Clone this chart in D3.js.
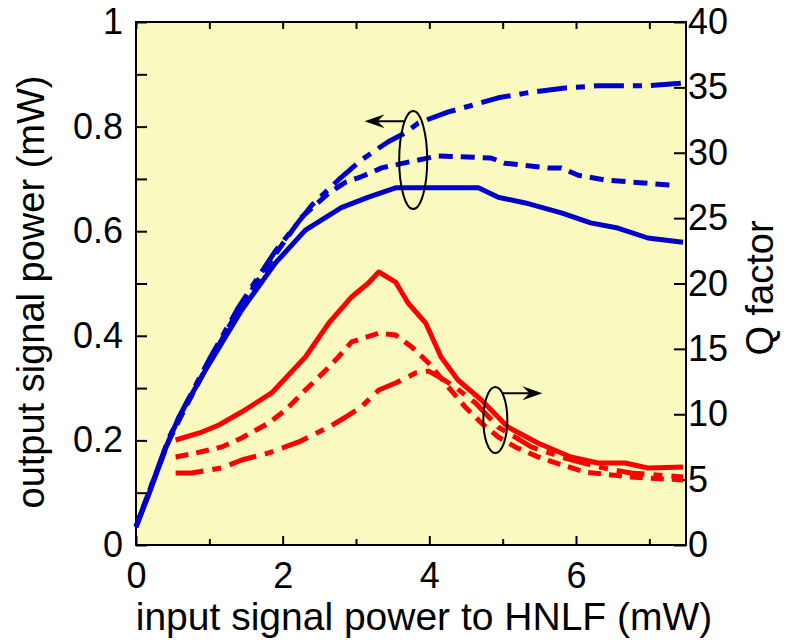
<!DOCTYPE html>
<head>
	<title>Output power and Q factor vs input power</title>
	<meta charset="utf-8"/>
	<script src="https://d3js.org/d3.v7.min.js"></script>
	<style>
		body { margin: 0; background: #fff; }
		text { font-family: "Liberation Sans", Arial, Helvetica, sans-serif; fill: #000; }
	</style>
</head>
<body>
<div id="my_dataviz"></div>
<script>
    // input signal power to HNLF (mW)
    var xTicks = [0, 2, 4, 6];
    var yLeftTicks = [0, 0.2, 0.4, 0.6, 0.8, 1];
    var yRightTicks = [0, 5, 10, 15, 20, 25, 30, 35, 40];

    // output signal power (mW) -- blue, left axis
    var blueSolidX = [0, 0.18, 0.41, 0.585, 0.95, 1.44, 1.9, 2.31, 2.8, 3.17, 3.54, 3.99, 4.67, 4.94, 5.31, 5.8, 6.2, 6.57, 6.98, 7.46];
    var blueSolidY = [0.034, 0.099, 0.187, 0.245, 0.335, 0.449, 0.539, 0.602, 0.645, 0.665, 0.683, 0.683, 0.683, 0.665, 0.654, 0.635, 0.616, 0.606, 0.587, 0.579];
    var blueDashX = [0, 0.2, 0.45, 0.7, 1.0, 1.4, 1.9, 2.26, 2.63, 2.86, 3.07, 3.35, 3.71, 4.12, 4.84, 5.03, 5.62, 5.8, 6.03, 6.39, 7.29];
    var blueDashY = [0.035, 0.11, 0.2, 0.27, 0.35, 0.45, 0.556, 0.627, 0.673, 0.694, 0.704, 0.721, 0.732, 0.744, 0.74, 0.73, 0.721, 0.721, 0.707, 0.698, 0.688];
    var blueDotDashX = [0, 0.2, 0.45, 0.7, 1.0, 1.4, 1.9, 2.4, 2.76, 3.07, 3.44, 3.67, 3.85, 4.26, 4.94, 5.31, 5.85, 6.3, 6.98, 7.46];
    var blueDotDashY = [0.035, 0.11, 0.205, 0.275, 0.355, 0.455, 0.562, 0.65, 0.698, 0.736, 0.771, 0.788, 0.807, 0.828, 0.855, 0.864, 0.874, 0.878, 0.878, 0.883];

    // Q factor -- red, right axis
    var redSolidX = [0.54, 0.9, 1.13, 1.44, 1.85, 2.31, 2.63, 2.94, 3.17, 3.31, 3.54, 3.71, 3.95, 4.16, 4.39, 4.71, 5.07, 5.48, 5.93, 6.3, 6.67, 6.98, 7.46];
    var redSolidY = [8.03, 8.64, 9.18, 10.17, 11.63, 14.38, 16.98, 18.97, 20.04, 20.88, 20.11, 18.51, 16.98, 14.38, 12.62, 11.09, 9.02, 7.8, 6.73, 6.27, 6.27, 5.89, 5.97];
    var redDashX = [0.54, 0.82, 1.17, 1.44, 1.81, 2.04, 2.31, 2.59, 2.76, 2.94, 3.31, 3.54, 3.76, 3.99, 4.26, 4.49, 4.71, 4.94, 5.17, 5.52, 6.12, 6.75, 7.46];
    var redDashY = [6.73, 7.04, 7.5, 8.18, 9.33, 10.33, 11.85, 13.38, 14.38, 15.53, 16.21, 16.06, 15.14, 13.92, 12.08, 10.55, 9.33, 8.26, 7.5, 6.65, 5.58, 5.2, 4.97];
    var redDotDashX = [0.54, 0.76, 1.17, 1.44, 1.81, 2.22, 2.63, 2.86, 3.07, 3.31, 3.54, 3.81, 3.99, 4.16, 4.35, 4.63, 4.94, 5.39, 5.85, 6.3, 6.75, 7.46];
    var redDotDashY = [5.51, 5.51, 5.89, 6.5, 7.04, 7.88, 9.02, 9.79, 10.55, 11.85, 12.39, 13.15, 13.3, 12.77, 12.08, 10.86, 9.02, 7.5, 6.65, 5.97, 5.51, 5.2];

    var W = 789, H = 643;
    var margin = {top: 22, right: 103, bottom: 98, left: 136};
    var width = W - margin.left - margin.right,
        height = H - margin.top - margin.bottom;

    var svg = d3.select("#my_dataviz")
        .append("svg")
        .attr("width", W)
        .attr("height", H)
        .append("g")
        .attr("transform", "translate(" + margin.left + "," + margin.top + ")");

    var x = d3.scaleLinear().domain([0, 7.5]).range([0, width]);
    var yL = d3.scaleLinear().domain([0, 1]).range([height, 0]);
    var yR = d3.scaleLinear().domain([0, 40]).range([height, 0]);

    // plot background
    svg.append("rect")
        .attr("width", width)
        .attr("height", height)
        .attr("fill", "#fafac0");

    // inward ticks on all four sides
    function ticks(axis, values, len, labelled) {
        return axis.tickValues(values).tickSizeInner(-len).tickSizeOuter(0)
            .tickFormat(labelled ? null : "");
    }
    var tickSize = 36;

    svg.append("g")
        .attr("transform", "translate(0," + height + ")")
        .call(ticks(d3.axisBottom(x), [1, 3, 5, 7], 6, false));
    svg.append("g")
        .attr("transform", "translate(0," + height + ")")
        .call(ticks(d3.axisBottom(x), xTicks, 9, true).tickPadding(17));
    svg.append("g")
        .call(ticks(d3.axisTop(x), d3.range(0, 8), 7, false));
    svg.append("g")
        .call(ticks(d3.axisLeft(yL), d3.range(0, 11).map(function(i) { return i / 10; }), 11, false));
    svg.append("g")
        .call(d3.axisLeft(yL).tickValues(yLeftTicks).tickSize(0).tickPadding(13)
            .tickFormat(function(d) { return d3.format("")(d); }));
    svg.append("g")
        .attr("transform", "translate(" + width + ",0)")
        .call(ticks(d3.axisRight(yR), yRightTicks, 12, true).tickPadding(2));

    svg.selectAll(".domain").remove();
    svg.selectAll(".tick line").attr("stroke", "#000").attr("stroke-width", 2);
    svg.selectAll(".tick text")
        .style("font-size", tickSize + "px")
        .style("font-family", "'Liberation Sans', Arial, sans-serif")
        .attr("fill", "#000");

    // frame
    svg.append("rect")
        .attr("width", width)
        .attr("height", height)
        .attr("fill", "none")
        .attr("stroke", "#000")
        .attr("stroke-width", 2);

    // curves
    var lineL = d3.line().x(function(d) { return x(d[0]); }).y(function(d) { return yL(d[1]); });
    var lineR = d3.line().x(function(d) { return x(d[0]); }).y(function(d) { return yR(d[1]); });

    var series = [
        {xs: redDotDashX, ys: redDotDashY, line: lineR, color: "#ff0000", dash: "28,9,9,9"},
        {xs: redDashX, ys: redDashY, line: lineR, color: "#ff0000", dash: "13,8"},
        {xs: redSolidX, ys: redSolidY, line: lineR, color: "#ff0000", dash: null},
        {xs: blueDotDashX, ys: blueDotDashY, line: lineL, color: "#0000c8", dash: "30,9,9,9"},
        {xs: blueDashX, ys: blueDashY, line: lineL, color: "#0000c8", dash: "14,8"},
        {xs: blueSolidX, ys: blueSolidY, line: lineL, color: "#0000c8", dash: null}
    ];
    series.forEach(function(s) {
        svg.append("path")
            .datum(d3.zip(s.xs, s.ys))
            .attr("d", s.line)
            .attr("fill", "none")
            .attr("stroke", s.color)
            .attr("stroke-width", 5)
            .attr("stroke-linejoin", "round")
            .attr("stroke-dasharray", s.dash);
    });

    // ellipses with arrows pointing to each axis
    function marker(cx, cy, rx, ry, ay, dir) {
        svg.append("ellipse")
            .attr("cx", cx).attr("cy", cy).attr("rx", rx).attr("ry", ry)
            .attr("fill", "none").attr("stroke", "#000").attr("stroke-width", 2);
        var x0 = cx + dir * Math.sqrt(Math.max(0, 1 - Math.pow((ay - cy) / ry, 2))) * rx;
        var x1 = x0 + dir * 40;
        svg.append("line")
            .attr("x1", x0).attr("y1", ay).attr("x2", x1 - dir * 6).attr("y2", ay)
            .attr("stroke", "#000").attr("stroke-width", 2);
        svg.append("path")
            .attr("d", "M" + x1 + "," + ay +
                "L" + (x1 - dir * 20) + "," + (ay - 7) +
                "L" + (x1 - dir * 13) + "," + ay +
                "L" + (x1 - dir * 20) + "," + (ay + 7) + "Z")
            .attr("fill", "#000");
    }
    marker(x(3.78), yL(0.736), 14, 49, yL(0.81), -1);
    marker(x(4.9), yR(9.56), 12, 33, yR(11.6), 1);

    // axis titles
    svg.append("text")
        .attr("x", 288)
        .attr("y", height + 85)
        .attr("text-anchor", "middle")
        .style("font-size", "39px")
        .text("input signal power to HNLF (mW)");
    svg.append("text")
        .attr("transform", "translate(" + (-92) + "," + (270) + ")rotate(-90)")
        .attr("text-anchor", "middle")
        .style("font-size", "38px")
        .text("output signal power (mW)");
    svg.append("text")
        .attr("transform", "translate(" + (width + 87) + "," + (266) + ")rotate(-90)")
        .attr("text-anchor", "middle")
        .style("font-size", "38px")
        .text("Q factor");
</script>
</body>
